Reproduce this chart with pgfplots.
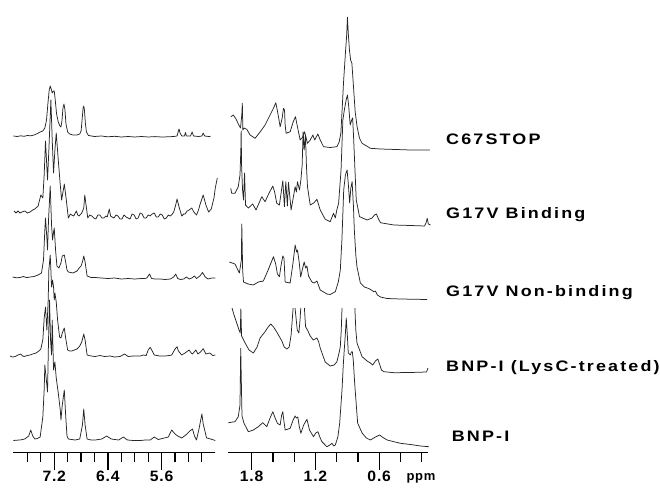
\documentclass[border=0pt]{standalone}
\usepackage{pgfplots}
\pgfplotsset{compat=1.18}
\usepackage{graphicx}
\usepackage{fontspec}
\setmainfont{Liberation Sans}
\newfontfamily\lbl[LetterSpace=12]{Liberation Sans}
\newfontfamily\tlbl[LetterSpace=5]{Liberation Sans}
\newcommand\sx[1]{\scalebox{1.18}[1]{#1}}
\newcommand\tx[1]{\scalebox{1.05}[1]{#1}}
\pgfplotsset{
  spec/.style={line width=0.75pt, color=black!85, no markers, line join=round},
  nmr/.style={
    scale only axis, clip=false, x dir=reverse,
    height=452pt, ymin=-452, ymax=0,
    axis x line*=bottom, axis y line=none, ytick=\empty,
    x axis line style={line width=1pt, black},
    tick align=outside,
    major tick length=18pt, minor tick length=10pt,
    tick style={black, line width=1.2pt},
    xticklabel style={font=\tlbl\bfseries\fontsize{15}{15}\selectfont, inner sep=0pt, yshift=-1pt},
    unbounded coords=jump,
  }
}
\begin{document}
\begin{tikzpicture}
\useasboundingbox (0,0) rectangle (660pt,490pt);
% ---------------- left panel (aromatic) ----------------
\begin{axis}[nmr, at={(13.3pt,38pt)}, anchor=south west, width=202pt,
  xmin=4.80, xmax=7.81,
  xtick={7.2,6.4,5.6}, xticklabels={\tx{7.2},\tx{6.4},\tx{5.6}},
  minor xtick={7.6,7.4,7.0,6.8,6.6,6.2,6.0,5.8,5.4,5.2,5.0}]
% C67STOP
\addplot[spec] coordinates {(7.81,-136)(7.75,-136.5)(7.70,-135.8)(7.65,-136.3)(7.60,-135.5)(7.55,-135.8)(7.50,-135)(7.45,-133.5)(7.41,-132)(7.37,-131)(7.34,-128)(7.315,-120)(7.295,-104)(7.275,-90)(7.26,-86)(7.245,-89)(7.23,-93)(7.215,-91)(7.20,-91)(7.185,-100)(7.165,-114)(7.14,-122)(7.115,-126)(7.10,-127)(7.085,-121)(7.07,-108)(7.055,-104)(7.04,-110)(7.025,-124)(7.00,-132)(6.97,-134)(6.92,-135)(6.86,-135)(6.82,-134)(6.80,-131)(6.785,-120)(6.77,-108)(6.76,-106)(6.75,-110)(6.735,-124)(6.72,-132)(6.69,-135.5)(6.60,-136.5)(6.50,-136)(6.40,-136.8)(6.30,-136.3)(6.20,-137)(6.10,-136.5)(6.00,-137)(5.90,-136.5)(5.80,-137)(5.70,-136.6)(5.60,-137)(5.50,-136.8)(5.42,-136.5)(5.37,-136)(5.35,-131)(5.34,-129)(5.325,-133)(5.30,-136)(5.26,-136)(5.245,-132.5)(5.23,-136)(5.17,-136)(5.145,-132)(5.125,-136)(5.05,-136.5)(5.00,-136)(4.98,-133)(4.96,-136)(4.90,-136.5)(4.87,-136.3)};
% G17V Binding
\addplot[spec] coordinates {(7.80,-211)(7.77,-213)(7.74,-211)(7.71,-213)(7.68,-212)(7.64,-211)(7.60,-213)(7.56,-212)(7.52,-210)(7.49,-209)(7.44,-206)(7.40,-195)(7.37,-198)(7.35,-175)(7.33,-141)(7.30,-180)(7.28,-150)(7.25,-100)(7.23,-140)(7.21,-173)(7.19,-150)(7.17,-133)(7.14,-160)(7.11,-185)(7.09,-200)(7.05,-184)(7.02,-200)(6.99,-218)(6.96,-214)(6.94,-215)(6.91,-216)(6.87,-211)(6.85,-215)(6.83,-216)(6.79,-213)(6.76,-208)(6.745,-195)(6.72,-208)(6.70,-218)(6.67,-215)(6.64,-216)(6.61,-218)(6.58,-219)(6.55,-215)(6.52,-215)(6.49,-218)(6.46,-218)(6.43,-216)(6.41,-217)(6.38,-209)(6.36,-216)(6.34,-217)(6.31,-218)(6.28,-215)(6.25,-216)(6.22,-219)(6.19,-219)(6.16,-215)(6.13,-217)(6.10,-218)(6.07,-219)(6.04,-214)(6.01,-215)(5.98,-219)(5.95,-218)(5.92,-213)(5.89,-214)(5.86,-218)(5.83,-218)(5.80,-215)(5.77,-216)(5.74,-214)(5.71,-213)(5.68,-217)(5.65,-217)(5.62,-214)(5.59,-215)(5.56,-219)(5.53,-218)(5.50,-215)(5.47,-216)(5.44,-214)(5.42,-212)(5.39,-205)(5.37,-199)(5.34,-207)(5.30,-216)(5.27,-214)(5.25,-214)(5.22,-211)(5.19,-210)(5.15,-208)(5.12,-212)(5.08,-215)(5.05,-210)(5.03,-205)(4.98,-195)(4.94,-205)(4.90,-212)(4.86,-209)(4.82,-198)(4.80,-188)(4.77,-178)};
% G17V Non-binding
\addplot[spec] coordinates {(7.82,-277)(7.76,-277.8)(7.71,-277.5)(7.66,-276.5)(7.61,-277.6)(7.56,-277)(7.50,-276.5)(7.44,-275)(7.39,-273)(7.36,-260)(7.34,-230)(7.33,-218)(7.31,-238)(7.30,-250)(7.285,-220)(7.26,-186)(7.24,-225)(7.225,-240)(7.21,-232)(7.20,-228)(7.18,-250)(7.16,-266)(7.13,-268)(7.10,-263)(7.08,-256)(7.05,-255)(7.03,-262)(7.01,-270)(6.99,-272)(6.92,-273)(6.86,-271)(6.83,-268)(6.80,-266)(6.78,-262)(6.76,-256)(6.74,-262)(6.71,-276)(6.65,-277.5)(6.59,-277.5)(6.50,-278)(6.40,-278.5)(6.30,-278)(6.20,-279)(6.10,-278.5)(6.00,-279)(5.90,-278.5)(5.85,-278.5)(5.82,-278)(5.78,-274)(5.75,-278.5)(5.70,-279)(5.62,-279)(5.55,-279.5)(5.47,-279)(5.42,-277)(5.39,-274)(5.36,-278.5)(5.32,-279.5)(5.27,-279)(5.23,-277)(5.19,-279)(5.15,-278)(5.11,-276)(5.08,-278.5)(5.03,-276)(4.99,-272.5)(4.95,-277)(4.91,-279)(4.85,-278)(4.80,-278)};
% BNP-I (LysC-treated)
\addplot[spec] coordinates {(7.86,-356)(7.82,-357)(7.78,-356.5)(7.74,-355)(7.70,-354)(7.67,-356)(7.65,-356.5)(7.60,-355.5)(7.56,-355)(7.52,-354)(7.47,-353)(7.43,-351)(7.40,-349)(7.37,-340)(7.35,-318)(7.33,-307)(7.31,-330)(7.29,-300)(7.28,-270)(7.26,-255)(7.25,-270)(7.24,-287)(7.225,-280)(7.21,-287)(7.20,-300)(7.19,-293)(7.17,-302)(7.15,-320)(7.12,-337)(7.10,-338)(7.08,-333)(7.05,-328)(7.03,-338)(7.00,-350)(6.97,-351)(6.94,-351)(6.90,-350)(6.86,-349)(6.82,-346)(6.79,-342)(6.76,-334)(6.74,-340)(6.71,-355)(6.65,-356)(6.59,-356.5)(6.52,-355.5)(6.45,-356.5)(6.37,-356)(6.30,-357)(6.22,-356.5)(6.15,-354)(6.10,-356.5)(6.02,-356)(5.92,-356)(5.87,-355)(5.83,-355.5)(5.80,-350)(5.77,-347.3)(5.74,-351)(5.71,-355)(5.63,-356)(5.55,-356)(5.48,-355.5)(5.45,-355)(5.40,-349)(5.37,-346.7)(5.35,-351)(5.30,-355)(5.25,-353)(5.19,-350)(5.16,-353)(5.14,-354)(5.09,-350)(5.06,-354)(5.02,-352)(4.98,-348.7)(4.94,-354)(4.88,-353)(4.84,-355.5)(4.80,-355)};
% BNP-I
\addplot[spec] coordinates {(7.81,-440.5)(7.76,-440.2)(7.71,-440)(7.64,-439)(7.58,-436)(7.55,-430)(7.52,-436)(7.49,-439)(7.45,-438.5)(7.41,-437)(7.37,-417)(7.35,-390)(7.34,-365)(7.31,-385)(7.30,-392)(7.285,-340)(7.27,-300)(7.255,-340)(7.24,-355)(7.23,-320)(7.21,-370)(7.19,-362)(7.17,-378)(7.14,-393)(7.11,-410)(7.10,-420)(7.08,-405)(7.05,-390)(7.03,-415)(7.01,-436)(6.99,-439)(6.89,-440)(6.82,-439)(6.78,-425)(6.76,-409)(6.74,-425)(6.71,-439)(6.65,-440)(6.59,-440)(6.49,-439)(6.42,-436)(6.35,-439)(6.24,-440)(6.17,-437)(6.11,-440)(6.02,-440.5)(5.92,-440.5)(5.84,-440)(5.77,-440)(5.71,-437)(5.65,-439.5)(5.56,-438)(5.50,-437)(5.45,-430)(5.40,-434)(5.36,-436)(5.30,-438)(5.24,-435)(5.18,-431)(5.14,-429)(5.11,-436)(5.08,-440)(5.04,-428)(5.00,-414)(4.98,-424)(4.93,-438)(4.87,-439)(4.80,-440.5)};
\end{axis}
% ---------------- right panel (aliphatic) ----------------
\begin{axis}[nmr, at={(228.3pt,38pt)}, anchor=south west, width=200pt,
  xmin=0.138, xmax=2.02,
  xtick={1.8,1.2,0.6}, xticklabels={\tx{1.8},\tx{1.2},\tx{0.6}},
  minor xtick={1.6,1.4,1.0,0.8,0.4,0.2}]
% C67STOP
\addplot[spec] coordinates {(1.995,-116.7)(1.973,-115)(1.947,-119)(1.926,-124)(1.905,-128)(1.893,-115)(1.888,-103.3)(1.883,-130)(1.872,-128)(1.846,-129.3)(1.815,-135)(1.768,-138.3)(1.721,-132)(1.674,-125)(1.627,-115)(1.594,-108)(1.573,-102.7)(1.556,-112)(1.532,-126.7)(1.513,-118)(1.501,-108.3)(1.491,-110)(1.485,-125)(1.476,-133.3)(1.438,-131.7)(1.410,-122)(1.388,-116.7)(1.367,-128)(1.344,-140)(1.320,-137)(1.303,-131.7)(1.287,-138)(1.275,-143.3)(1.249,-140)(1.224,-135)(1.207,-140)(1.177,-134)(1.155,-140)(1.124,-146.7)(1.061,-147.5)(0.998,-146.7)(0.977,-142)(0.961,-133.3)(0.949,-110)(0.936,-83)(0.918,-53.3)(0.906,-35)(0.899,-17.3)(0.890,-35)(0.880,-50)(0.869,-60)(0.857,-63.3)(0.842,-86.7)(0.826,-112)(0.808,-126.7)(0.786,-138)(0.761,-143.3)(0.683,-148.3)(0.588,-149)(0.447,-149.5)(0.305,-150)(0.124,-150)};
% G17V Binding
\addplot[spec] coordinates {(1.997,-188.3)(1.988,-193.3)(1.957,-193.3)(1.926,-186.7)(1.910,-175)(1.902,-150)(1.899,-131)(1.895,-165)(1.886,-190)(1.877,-200)(1.867,-173)(1.858,-205)(1.831,-208)(1.790,-204)(1.759,-210)(1.705,-196.7)(1.674,-201.7)(1.636,-193)(1.601,-186)(1.584,-192)(1.564,-203.3)(1.539,-205)(1.507,-180.7)(1.492,-206.7)(1.479,-181.7)(1.464,-206)(1.454,-182.3)(1.429,-210)(1.391,-186.7)(1.379,-192)(1.369,-181.7)(1.350,-190)(1.337,-180)(1.325,-165)(1.316,-132)(1.306,-150)(1.294,-135)(1.285,-165)(1.275,-186.7)(1.249,-205)(1.216,-203)(1.186,-199.3)(1.155,-210)(1.108,-219.3)(1.061,-221.7)(1.030,-213.3)(1.013,-218)(0.999,-210)(0.982,-203.3)(0.959,-170)(0.942,-120)(0.928,-110)(0.911,-100)(0.899,-95)(0.888,-105)(0.873,-125)(0.859,-120)(0.850,-118)(0.842,-135)(0.826,-175)(0.816,-200)(0.785,-216.7)(0.714,-220)(0.667,-218)(0.645,-215)(0.626,-214)(0.607,-219)(0.588,-222.7)(0.463,-225)(0.305,-225.5)(0.173,-226)(0.160,-223)(0.148,-218.3)(0.138,-224)(0.117,-225)};
% G17V Non-binding
\addplot[spec] coordinates {(2.011,-262)(1.957,-264)(1.916,-273)(1.897,-260)(1.893,-224)(1.885,-270)(1.877,-282)(1.834,-284)(1.784,-285)(1.737,-282)(1.690,-281)(1.645,-270)(1.595,-256.7)(1.574,-264)(1.558,-274)(1.539,-276.7)(1.523,-265)(1.507,-256)(1.496,-258)(1.485,-282)(1.438,-283)(1.410,-262)(1.391,-245)(1.377,-252)(1.369,-250)(1.353,-262)(1.339,-277)(1.320,-268)(1.306,-262)(1.292,-268)(1.280,-266)(1.265,-276)(1.233,-282)(1.212,-283)(1.186,-281)(1.155,-290)(1.092,-294)(1.061,-294.5)(1.013,-291.7)(0.985,-282)(0.966,-270)(0.951,-240)(0.934,-190)(0.918,-175)(0.902,-170)(0.890,-185)(0.878,-203)(0.867,-188)(0.855,-181.7)(0.843,-205)(0.834,-230)(0.820,-255)(0.809,-267)(0.777,-283)(0.739,-287)(0.699,-288.5)(0.673,-290)(0.652,-291.7)(0.636,-291)(0.617,-295)(0.588,-297)(0.526,-298.5)(0.400,-299)(0.148,-299.5)};
% BNP-I (LysC-treated)
\addplot[spec] coordinates {(1.985,-308)(1.966,-315)(1.941,-323)(1.919,-330)(1.907,-333)(1.902,-309)(1.895,-336)(1.862,-343)(1.825,-350)(1.784,-353)(1.749,-347)(1.721,-338)(1.674,-331.7)(1.645,-327)(1.620,-324)(1.594,-327)(1.564,-332)(1.532,-338)(1.516,-341)(1.494,-347)(1.469,-349)(1.447,-347)(1.429,-335)(1.410,-308)(1.400,nan)(1.392,-308)(1.371,-330)(1.356,-333)(1.345,-320)(1.338,-308)(1.320,nan)(1.304,-308)(1.293,-326.7)(1.275,-330)(1.249,-336)(1.221,-340)(1.186,-338)(1.169,-342)(1.155,-348)(1.108,-362)(1.061,-366)(1.023,-365)(0.998,-361.7)(0.976,-352)(0.966,-346.7)(0.957,-330)(0.950,-308)(0.900,nan)(0.829,-308)(0.820,-330)(0.809,-343)(0.761,-356.7)(0.714,-361)(0.683,-363)(0.661,-365)(0.636,-361)(0.613,-359)(0.597,-364)(0.579,-370)(0.556,-371.7)(0.463,-372.7)(0.305,-372.5)(0.155,-372)(0.141,-368)};
% BNP-I
\addplot[spec] coordinates {(2.020,-422.7)(1.957,-421.7)(1.926,-416.7)(1.910,-405)(1.903,-348.3)(1.895,-395)(1.891,-416)(1.872,-423.3)(1.831,-431.7)(1.784,-430)(1.737,-426.7)(1.696,-422.7)(1.658,-426.7)(1.627,-418)(1.601,-411.7)(1.579,-418)(1.558,-423.3)(1.532,-425)(1.518,-415)(1.507,-411.7)(1.498,-420)(1.485,-430)(1.438,-428.3)(1.410,-420)(1.391,-416)(1.379,-418)(1.366,-417)(1.353,-426)(1.337,-433.3)(1.311,-425)(1.280,-419.3)(1.256,-430)(1.218,-436.7)(1.197,-433)(1.177,-431.7)(1.155,-438)(1.139,-441.7)(1.092,-446.7)(1.065,-445)(1.045,-443.3)(1.028,-446)(1.013,-445)(0.989,-437)(0.972,-423.3)(0.950,-390)(0.938,-365)(0.929,-350)(0.919,-335)(0.910,-318)(0.900,-335)(0.891,-353)(0.872,-355)(0.862,-352)(0.853,-351.7)(0.844,-360)(0.831,-383)(0.803,-423)(0.761,-433)(0.721,-438)(0.683,-440)(0.636,-437)(0.596,-435)(0.571,-437)(0.526,-440)(0.400,-443.3)(0.305,-444.5)(0.211,-446)(0.133,-446.7)};
\end{axis}
% ---------------- text ----------------
\begin{scope}[every node/.style={inner sep=0pt, anchor=base west, font=\lbl\bfseries\fontsize{15.2}{15.2}\selectfont}]
\node at (446pt,345pt) {\sx{C67STOP}};
\node at (446pt,271.5pt) {\sx{G17V Binding}};
\node at (446pt,193.5pt) {\sx{G17V Non-binding}};
\node at (446pt,118.5pt) {\sx{BNP-I (LysC-treated)}};
\node at (451.7pt,49pt) {\sx{BNP-I}};
\end{scope}
\node[inner sep=0pt, anchor=base, font=\tlbl\bfseries\fontsize{13}{13}\selectfont] at (421pt,10pt) {ppm};
\end{tikzpicture}
\end{document}
